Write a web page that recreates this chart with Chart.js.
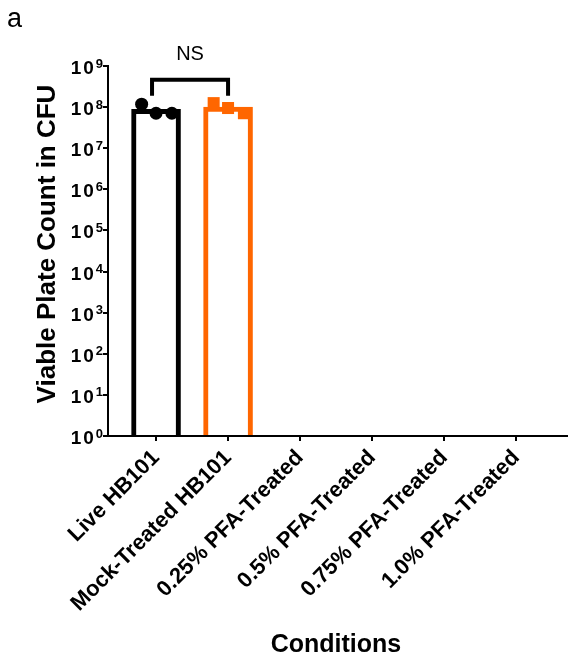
<!DOCTYPE html>
<html>
<head>
<meta charset="utf-8">
<script src="https://cdn.jsdelivr.net/npm/chart.js@4"></script>
<style>
  body { margin: 0; background: #fff; }
  #wrap { width: 568px; height: 659px; }
</style>
</head>
<body>
<div id="wrap"><canvas id="chart" width="568" height="659"></canvas></div>
<script>
const categories = ['Live HB101', 'Mock-Treated HB101', '0.25% PFA-Treated', '0.5% PFA-Treated', '0.75% PFA-Treated', '1.0% PFA-Treated'];
// bar heights (CFU), only the first two groups have viable counts
const barValues = [8.8e7, 1.0e8];
// individual replicates
const liveHB101 = [1.18e8, 7.1e7, 7.1e7];
const mockHB101 = [1.25e8, 9.5e7, 7.1e7];
const jitter = [-0.2, 0, 0.22];
const exponents = [0, 1, 2, 3, 4, 5, 6, 7, 8, 9];
const bracketTop = 4.6e8;
const bracketLeg = 1.9e8;

const FONT = 'Arial, "Liberation Sans", sans-serif';
const ORANGE = '#ff6600';

const textPlugin = {
    id: 'textPlugin',
    afterDraw(chart) {
        const ctx = chart.ctx;
        const x = chart.scales.x;
        const y = chart.scales.y;
        ctx.save();
        ctx.fillStyle = '#000';

        // y tick labels as 10 with superscript exponent
        exponents.forEach((p) => {
            const py = y.getPixelForValue(Math.pow(10, p));
            ctx.textAlign = 'right';
            ctx.textBaseline = 'alphabetic';
            ctx.letterSpacing = '0px';
            ctx.font = 'bold 13px ' + FONT;
            const sup = String(p);
            const supW = ctx.measureText(sup).width;
            ctx.fillText(sup, 103, py + 1.5);
            ctx.font = 'bold 19px ' + FONT;
            ctx.letterSpacing = '2px';
            ctx.fillText('10', 103 - supW, py + 8);
        });
        ctx.letterSpacing = '0px';

        // axis titles
        ctx.font = 'bold 25px ' + FONT;
        ctx.textAlign = 'center';
        ctx.textBaseline = 'alphabetic';
        ctx.fillText('Conditions', 336, 652);
        ctx.save();
        ctx.translate(55, 244);
        ctx.rotate(-Math.PI / 2);
        ctx.font = 'bold 26px ' + FONT;
        ctx.fillText('Viable Plate Count in CFU', 0, 0);
        ctx.restore();

        // panel letter
        ctx.font = '27px ' + FONT;
        ctx.textAlign = 'left';
        ctx.fillText('a', 7, 27);

        // significance bracket
        const x0 = x.getPixelForValue(0) - 4;
        const x1 = x.getPixelForValue(1);
        const yt = y.getPixelForValue(bracketTop);
        const yl = y.getPixelForValue(bracketLeg);
        ctx.strokeStyle = '#000';
        ctx.lineWidth = 4;
        ctx.lineCap = 'butt';
        ctx.beginPath();
        ctx.moveTo(x0, yl);
        ctx.lineTo(x0, yt);
        ctx.lineTo(x1, yt);
        ctx.lineTo(x1, yl);
        ctx.stroke();
        ctx.font = '20px ' + FONT;
        ctx.textAlign = 'center';
        ctx.fillText('NS', (x0 + x1) / 2, 60);
        ctx.restore();
    }
};

new Chart(document.getElementById('chart'), {
    type: 'bar',
    data: {
        datasets: [
            {
                type: 'line',
                data: liveHB101.map((v, i) => ({ x: 0 + jitter[i], y: v })),
                showLine: false,
                pointStyle: 'circle',
                pointRadius: 6.5,
                pointBackgroundColor: '#000',
                pointBorderColor: '#000',
                pointBorderWidth: 0,
                order: 0,
            },
            {
                type: 'line',
                data: mockHB101.map((v, i) => ({ x: 1 + jitter[i], y: v })),
                showLine: false,
                pointStyle: 'rect',
                pointRadius: 8.5,
                pointBackgroundColor: ORANGE,
                pointBorderColor: ORANGE,
                pointBorderWidth: 0,
                order: 0,
            },
            {
                type: 'bar',
                data: barValues.map((v, i) => ({ x: i, y: v })),
                base: 1,
                barThickness: 49,
                backgroundColor: '#fff',
                borderColor: ['#000', ORANGE],
                borderWidth: 5,
                borderSkipped: 'bottom',
                order: 1,
            },
        ],
    },
    options: {
        responsive: false,
        animation: false,
        layout: { autoPadding: false, padding: { top: 66, right: 0, left: 0, bottom: 0 } },
        plugins: {
            legend: { display: false },
            tooltip: { enabled: false },
        },
        scales: {
            x: {
                type: 'linear',
                position: 'bottom',
                offset: false,
                min: -0.667,
                max: 5.72,
                afterBuildTicks: (scale) => {
                    scale.ticks = categories.map((c, i) => ({ value: i }));
                },
                afterFit: (scale) => {
                    scale.height = 223;
                    scale.paddingLeft = 0;
                    scale.paddingRight = 0;
                },
                ticks: {
                    autoSkip: false,
                    minRotation: 45,
                    maxRotation: 45,
                    padding: 4,
                    color: '#000',
                    font: { family: FONT, size: 22, weight: 'bold' },
                    callback: (v) => categories[v],
                },
                grid: {
                    offset: false,
                    drawOnChartArea: false,
                    tickLength: 5,
                    color: '#000',
                    lineWidth: 2,
                },
                border: { color: '#000', width: 2 },
            },
            y: {
                type: 'logarithmic',
                min: 1,
                max: 1e9,
                afterBuildTicks: (scale) => {
                    scale.ticks = exponents.map((p) => ({ value: Math.pow(10, p) }));
                },
                afterFit: (scale) => {
                    scale.width = 108;
                    scale.paddingTop = 0;
                    scale.paddingBottom = 0;
                },
                ticks: {
                    callback: () => '',
                },
                grid: {
                    drawOnChartArea: false,
                    tickLength: 5,
                    color: '#000',
                    lineWidth: 2,
                },
                border: { color: '#000', width: 2 },
            },
        },
    },
    plugins: [textPlugin],
});
</script>
</body>
</html>
